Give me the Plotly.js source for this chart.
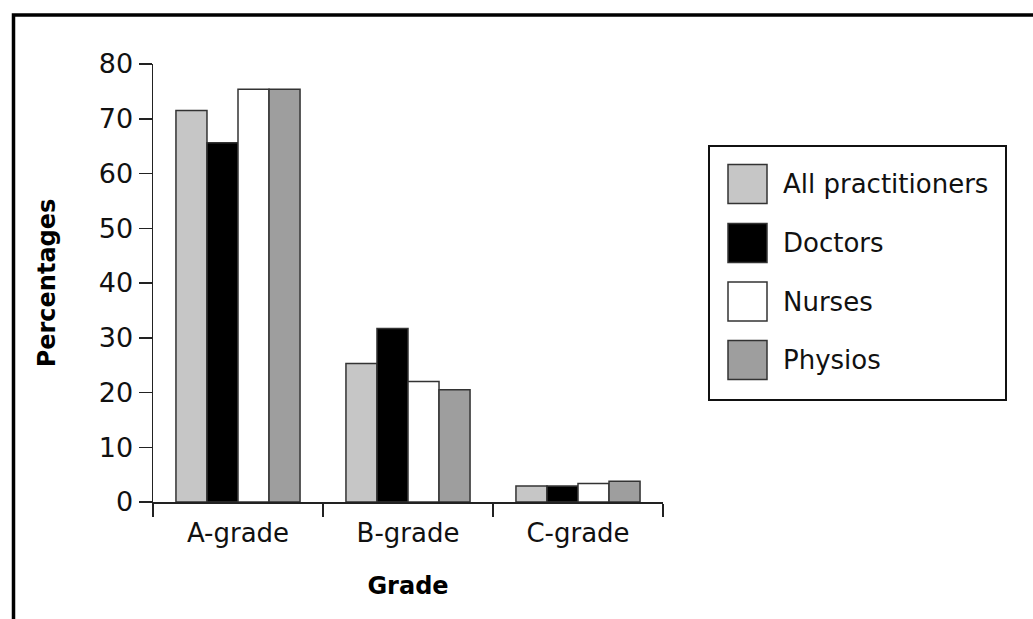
<!DOCTYPE html>
<html>
<head>
<meta charset="utf-8">
<script src="https://cdn.plot.ly/plotly-3.0.1.min.js"></script>
<style>html,body{margin:0;padding:0;background:#fff;}</style>
</head>
<body>
<div id="chart" style="width:1033px;height:619px;"></div>
<script>
const categories = ["A-grade", "B-grade", "C-grade"];
const seriesNames = ["All practitioners", "Doctors", "Nurses", "Physios"];
const allPractitioners = [71.5, 25.3, 2.9];
const doctors = [65.6, 31.7, 2.9];
const nurses = [75.4, 22.0, 3.4];
const physios = [75.4, 20.5, 3.8];
const seriesValues = [allPractitioners, doctors, nurses, physios];
const seriesColors = ["#c6c6c6", "#000000", "#ffffff", "#9e9e9e"];
const yTicks = [0, 10, 20, 30, 40, 50, 60, 70, 80];

const FONT = "DejaVu Sans, sans-serif";

const traces = seriesNames.map((name, i) => ({
  type: "bar",
  name: name,
  x: categories,
  y: seriesValues[i],
  marker: {color: seriesColors[i], line: {color: "#333333", width: 1.5}},
  showlegend: false,
  hoverinfo: "x+y+name"
}));

// plot area in pixels: x 153..663, y 64..502
const L = 153, R = 663, T = 64, B = 502;
const px = x => (x - L) / (R - L);
const py = y => (B - y) / (B - T);

const shapes = [
  // outer frame (top and left visible)
  {type: "rect", xref: "paper", yref: "paper", x0: px(13.5), x1: px(1045), y0: py(640), y1: py(15),
   line: {color: "#000", width: 3.5}, fillcolor: "rgba(0,0,0,0)"},
  // legend box
  {type: "rect", xref: "paper", yref: "paper", x0: px(709), x1: px(1006), y0: py(400), y1: py(146),
   line: {color: "#111", width: 2}, fillcolor: "rgba(0,0,0,0)"}
];
const annotations = [];
const rowCenters = [184, 243, 301.5, 360];
seriesNames.forEach((name, i) => {
  const c = rowCenters[i];
  shapes.push({type: "rect", xref: "paper", yref: "paper",
    x0: px(728), x1: px(767), y0: py(c + 19.5), y1: py(c - 19.5),
    line: {color: "#333", width: 1.5}, fillcolor: seriesColors[i]});
  annotations.push({xref: "paper", yref: "paper", x: px(781), y: py(c), xanchor: "left", yanchor: "middle",
    text: name, showarrow: false, font: {family: FONT, size: 26, color: "#111"}});
});

const layout = {
  width: 1033, height: 619,
  margin: {l: L, r: 1033 - R, t: T, b: 619 - B, pad: 0},
  paper_bgcolor: "#fff", plot_bgcolor: "#fff",
  barmode: "group", bargap: 0.27, bargroupgap: 0,
  font: {family: FONT, color: "#111"},
  xaxis: {
    type: "category", showline: true, linecolor: "#222", linewidth: 1.5,
    ticks: "outside", ticklen: 13, tickwidth: 1.5, tickcolor: "#222", tickson: "boundaries",
    tickfont: {family: FONT, size: 26, color: "#111"}, ticklabelstandoff: 7,
    showgrid: false, zeroline: false, automargin: false,
    title: {text: "<b>Grade</b>", font: {family: FONT, size: 24, color: "#000"}, standoff: 30}
  },
  yaxis: {
    range: [0, 80], tickvals: yTicks, ticktext: yTicks.map(String),
    showline: true, linecolor: "#222", linewidth: 1.5,
    ticks: "outside", ticklen: 13, tickwidth: 1.5, tickcolor: "#222",
    tickfont: {family: FONT, size: 27, color: "#111"},
    showgrid: false, zeroline: false, automargin: false,
    title: {text: "<b>Percentages</b>", font: {family: FONT, size: 24, color: "#000"}, standoff: 36}
  },
  shapes: shapes,
  annotations: annotations,
  showlegend: false
};

Plotly.newPlot("chart", traces, layout, {displayModeBar: false, staticPlot: true});
</script>
</body>
</html>
